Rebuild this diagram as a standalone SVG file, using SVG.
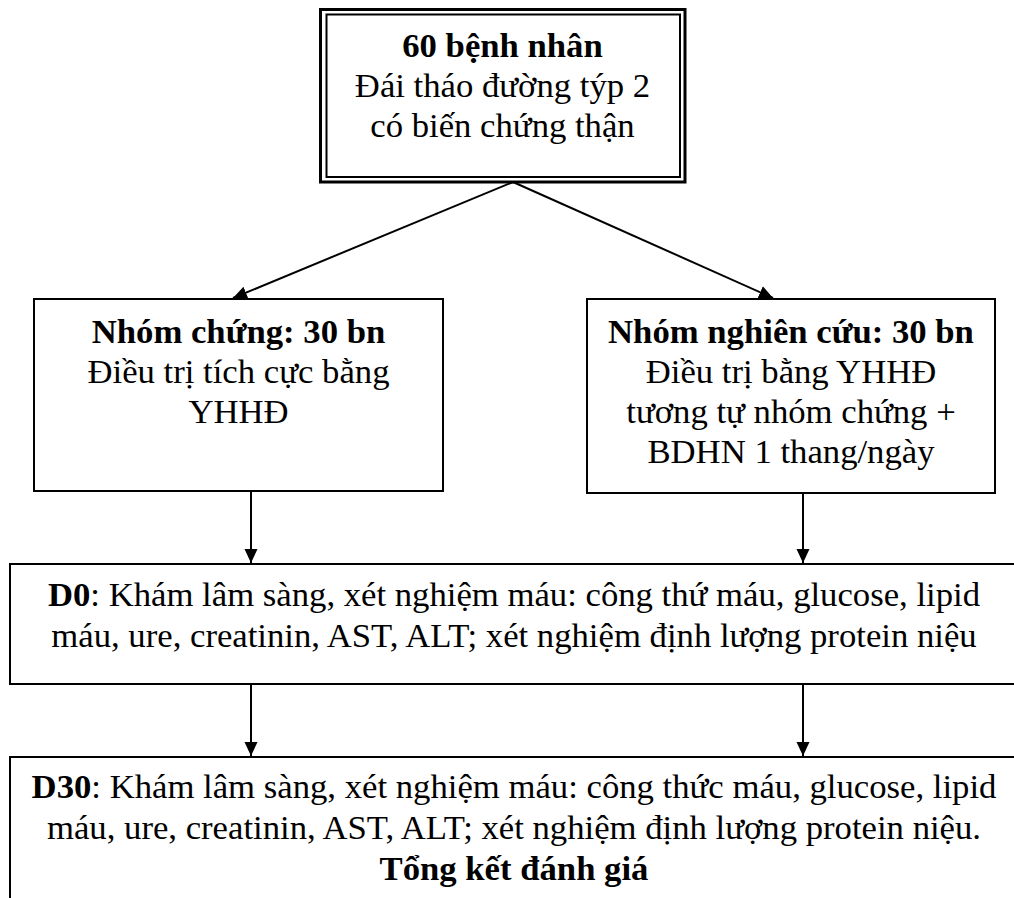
<svg xmlns="http://www.w3.org/2000/svg" width="1014" height="898" viewBox="0 0 1014 898">
<style>
text{font-family:"Liberation Serif","Times New Roman","DejaVu Serif",serif;font-size:34.7px;fill:#000;text-anchor:middle}
.b{font-weight:bold}
.box{fill:#fff;stroke:#000;stroke-width:2}
.ln{stroke:#000;stroke-width:2;fill:none}
</style>
<defs>
<marker id="ah" viewBox="0 0 14 14" refX="14" refY="7" markerWidth="14" markerHeight="14" markerUnits="userSpaceOnUse" orient="auto">
<path d="M0,0.5 L14,7 L0,13.5 Z" fill="#000"/>
</marker>
</defs>
<rect width="1014" height="898" fill="#fff"/>
<g id="connectors">
<line class="ln" x1="513" y1="182" x2="233" y2="298" marker-end="url(#ah)"/>
<line class="ln" x1="513" y1="182" x2="773" y2="298" marker-end="url(#ah)"/>
<line class="ln" x1="251" y1="491" x2="251" y2="563" marker-end="url(#ah)"/>
<line class="ln" x1="803" y1="493" x2="803" y2="563" marker-end="url(#ah)"/>
<line class="ln" x1="251" y1="684" x2="251" y2="756" marker-end="url(#ah)"/>
<line class="ln" x1="803" y1="684" x2="803" y2="756" marker-end="url(#ah)"/>
</g>
<g id="n-top">
<rect x="320.5" y="9.5" width="364.5" height="172.5" fill="#fff" stroke="#000" stroke-width="3"/>
<rect x="326.5" y="14.5" width="353.5" height="162.5" fill="none" stroke="#000" stroke-width="2"/>
<text x="502.5" y="57" class="b">60 bệnh nhân</text>
<text x="502.5" y="97">Đái tháo đường týp 2</text>
<text x="502.5" y="137">có biến chứng thận</text>
</g>
<g id="n-control">
<rect class="box" x="34" y="299" width="409" height="192"/>
<text x="238.5" y="343" class="b">Nhóm chứng: 30 bn</text>
<text x="238.5" y="383">Điều trị tích cực bằng</text>
<text x="238.5" y="423">YHHĐ</text>
</g>
<g id="n-study">
<rect class="box" x="587" y="299" width="408" height="194"/>
<text x="791" y="343" class="b">Nhóm nghiên cứu: 30 bn</text>
<text x="791" y="383">Điều trị bằng YHHĐ</text>
<text x="791" y="423">tương tự nhóm chứng +</text>
<text x="791" y="463">BDHN 1 thang/ngày</text>
</g>
<g id="n-d0">
<rect class="box" x="10" y="564" width="1010" height="120"/>
<text x="514" y="606"><tspan class="b">D0</tspan>: Khám lâm sàng, xét nghiệm máu: công thứ máu, glucose, lipid</text>
<text x="514" y="647">máu, ure, creatinin, AST, ALT; xét nghiệm định lượng protein niệu</text>
</g>
<g id="n-d30">
<rect class="box" x="10" y="757" width="1010" height="160"/>
<text x="514" y="798"><tspan class="b">D30</tspan>: Khám lâm sàng, xét nghiệm máu: công thức máu, glucose, lipid</text>
<text x="514" y="839">máu, ure, creatinin, AST, ALT; xét nghiệm định lượng protein niệu.</text>
<text x="514" y="880" class="b">Tổng kết đánh giá</text>
</g>
</svg>
